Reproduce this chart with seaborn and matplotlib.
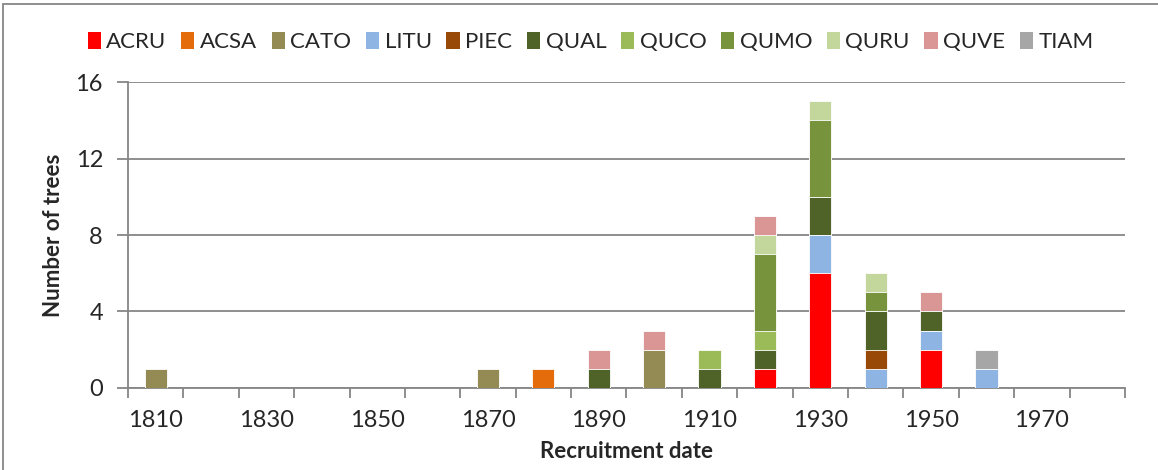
import numpy as np
import pandas as pd
import seaborn as sns
import matplotlib.pyplot as plt
from matplotlib.patches import Patch, Rectangle

decades = [1810, 1820, 1830, 1840, 1850, 1860, 1870, 1880, 1890,
           1900, 1910, 1920, 1930, 1940, 1950, 1960, 1970, 1980]
species = ["ACRU", "ACSA", "CATO", "LITU", "PIEC", "QUAL",
           "QUCO", "QUMO", "QURU", "QUVE", "TIAM"]
colors = ["#FF0000", "#E46C0A", "#948A54", "#8EB4E3", "#984807", "#4F6228",
          "#9BBB59", "#77933C", "#C3D69B", "#D99694", "#A6A6A6"]

#           1810       1850          1890          1930          1970
acru = [0, 0, 0, 0, 0, 0, 0, 0, 0, 0, 0, 1, 6, 0, 2, 0, 0, 0]
acsa = [0, 0, 0, 0, 0, 0, 0, 1, 0, 0, 0, 0, 0, 0, 0, 0, 0, 0]
cato = [1, 0, 0, 0, 0, 0, 1, 0, 0, 2, 0, 0, 0, 0, 0, 0, 0, 0]
litu = [0, 0, 0, 0, 0, 0, 0, 0, 0, 0, 0, 0, 2, 1, 1, 1, 0, 0]
piec = [0, 0, 0, 0, 0, 0, 0, 0, 0, 0, 0, 0, 0, 1, 0, 0, 0, 0]
qual = [0, 0, 0, 0, 0, 0, 0, 0, 1, 0, 1, 1, 2, 2, 1, 0, 0, 0]
quco = [0, 0, 0, 0, 0, 0, 0, 0, 0, 0, 1, 1, 0, 0, 0, 0, 0, 0]
qumo = [0, 0, 0, 0, 0, 0, 0, 0, 0, 0, 0, 4, 4, 1, 0, 0, 0, 0]
quru = [0, 0, 0, 0, 0, 0, 0, 0, 0, 0, 0, 1, 1, 1, 0, 0, 0, 0]
quve = [0, 0, 0, 0, 0, 0, 0, 0, 1, 1, 0, 1, 0, 0, 1, 0, 0, 0]
tiam = [0, 0, 0, 0, 0, 0, 0, 0, 0, 0, 0, 0, 0, 0, 0, 1, 0, 0]

counts = pd.DataFrame([acru, acsa, cato, litu, piec, qual, quco, qumo, quru, quve, tiam],
                      index=species, columns=decades).T
cum = counts.cumsum(axis=1)

sns.set_theme(style="white")
plt.rcParams['font.family'] = ['Lato', 'DejaVu Sans']
grey = "#868686"

fig = plt.figure(figsize=(11.58, 4.70), dpi=100)
ax = fig.add_axes([0.1105, 0.1745, 0.861, 0.651])

order = [str(d) for d in decades]
# stacked bars: draw cumulative totals from the top layer down
for sp, col in reversed(list(zip(species, colors))):
    df = pd.DataFrame({"decade": order, "n": cum[sp].values})
    sns.barplot(data=df, x="decade", y="n", order=order, color=col, saturation=1,
                width=0.4, edgecolor="white", linewidth=0.6, ax=ax, zorder=3)

ax.set_xlim(-0.5, len(decades) - 0.5)
ax.set_ylim(0, 16)
ax.set_yticks([0, 4, 8, 12, 16])
ax.yaxis.grid(True, color=grey, linewidth=1.3, zorder=0)
ax.set_axisbelow(True)

ax.set_xticks(range(0, len(decades), 2))
ax.set_xticklabels([str(d) for d in decades[::2]])
ax.set_xticks(np.arange(-0.5, len(decades), 1), minor=True)
ax.tick_params(axis="x", which="major", length=0, pad=16, labelsize=17)
ax.tick_params(axis="x", which="minor", length=7, width=1.3, color=grey, bottom=True)
ax.tick_params(axis="y", length=8, width=1.3, color=grey, left=True, pad=10, labelsize=17)

for s in ["top", "right"]:
    ax.spines[s].set_visible(False)
for s in ["left", "bottom"]:
    ax.spines[s].set_color(grey)
    ax.spines[s].set_linewidth(1.3)

ax.set_xlabel("Recruitment date", fontsize=16, fontweight="bold", labelpad=7)
ax.set_ylabel("Number of trees", fontsize=16, fontweight="bold", labelpad=8)

handles = [Patch(facecolor=c, edgecolor="none") for c in colors]
fig.legend(handles, species, loc="center", bbox_to_anchor=(0.51, 0.91), ncol=11,
           frameon=False, fontsize=16, handlelength=0.6, handleheight=0.8,
           handletextpad=0.25, columnspacing=0.65)

fig.patches.append(Rectangle((0.0026, -0.02), 1.2, 1.0115, transform=fig.transFigure,
                             fill=False, edgecolor=grey, linewidth=1.3))

fig.savefig("out.png", dpi=100)
